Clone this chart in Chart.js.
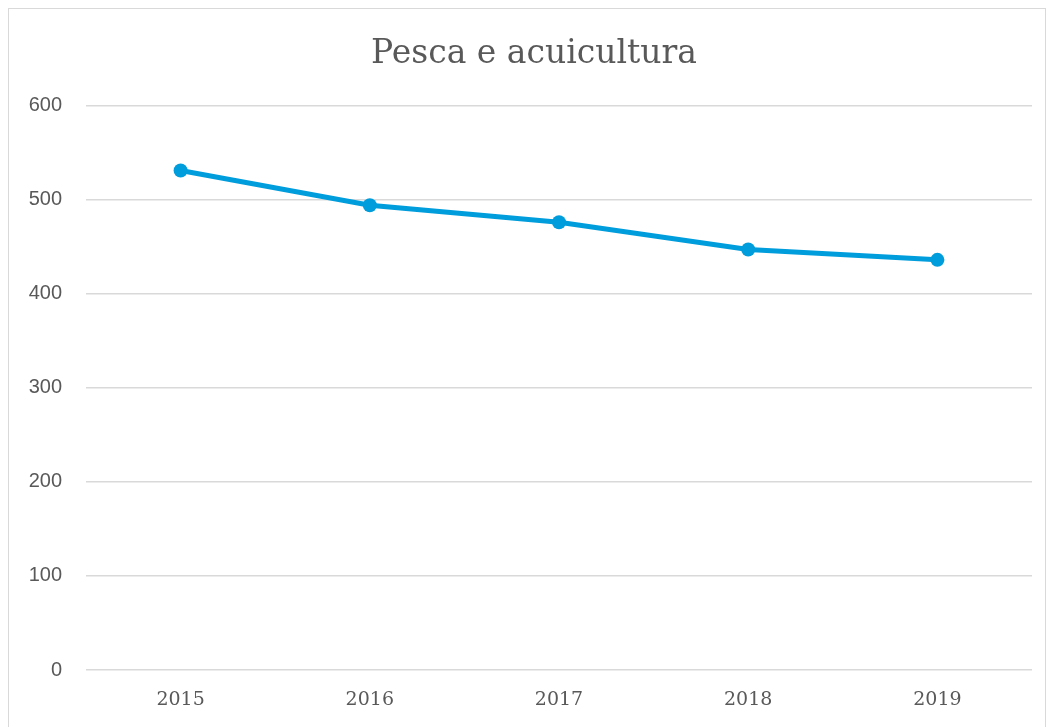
<!DOCTYPE html>
<html lang="es">
<head>
    <meta charset="UTF-8">
    <title>Pesca e acuicultura</title>
    <script src="https://cdn.jsdelivr.net/npm/chart.js"></script>
    <style>
        html, body { margin: 0; padding: 0; background: #fff; overflow: hidden; }
        #frame {
            position: absolute;
            left: 8px; top: 8px;
            width: 1036px; height: 740px;
            border: 1px solid #d9d9d9;
        }
        #chartContainer {
            position: absolute;
            left: 0; top: 0;
            width: 1052px; height: 727px;
        }
    </style>
</head>
<body>
    <div id="frame"></div>
    <div id="chartContainer">
        <canvas id="pescaChart"></canvas>
    </div>
    <script>
        const years = ['2015', '2016', '2017', '2018', '2019'];
        const pescaValues = [531, 494, 476, 447, 436];
        const yTicks = [0, 100, 200, 300, 400, 500, 600];

        const textColor = '#595959';
        const lineColor = '#009ddc';

        // the original title sits a little right of the canvas centre
        const shiftTitle = {
            id: 'shiftTitle',
            afterLayout(chart) {
                if (chart.titleBlock) chart.titleBlock.left = 36;
            }
        };

        const ctx = document.getElementById('pescaChart').getContext('2d');
        new Chart(ctx, {
            type: 'line',
            data: {
                labels: years,
                datasets: [{
                    label: 'Pesca e acuicultura',
                    data: pescaValues,
                    borderColor: lineColor,
                    backgroundColor: lineColor,
                    borderWidth: 5,
                    pointRadius: 7,
                    pointHoverRadius: 7,
                    pointBorderWidth: 0,
                    tension: 0
                }]
            },
            plugins: [shiftTitle],
            options: {
                responsive: true,
                maintainAspectRatio: false,
                animation: false,
                layout: { padding: { left: 0, right: 20, top: 0, bottom: 0 } },
                plugins: {
                    legend: { display: false },
                    tooltip: { enabled: false },
                    title: {
                        display: true,
                        text: 'Pesca e acuicultura',
                        color: textColor,
                        font: { family: 'DejaVu Serif', size: 33, weight: 'normal', lineHeight: 1.2 },
                        padding: { top: 35, bottom: 31 }
                    }
                },
                scales: {
                    x: {
                        offset: true,
                        grid: { display: false },
                        border: { display: false },
                        ticks: {
                            color: textColor,
                            padding: 11,
                            font: { family: 'DejaVu Serif', size: 19 }
                        },
                        afterFit: scale => { scale.height = 57; }
                    },
                    y: {
                        min: yTicks[0],
                        max: yTicks[yTicks.length - 1],
                        afterBuildTicks: scale => { scale.ticks = yTicks.map(v => ({ value: v })); },
                        grid: { color: '#d9d9d9', lineWidth: 1.5, drawTicks: false },
                        border: { display: false },
                        ticks: {
                            color: textColor,
                            padding: 24,
                            font: { family: 'Liberation Sans', size: 20 }
                        },
                        afterFit: scale => { scale.width = 86; }
                    }
                }
            }
        });
    </script>
</body>
</html>
